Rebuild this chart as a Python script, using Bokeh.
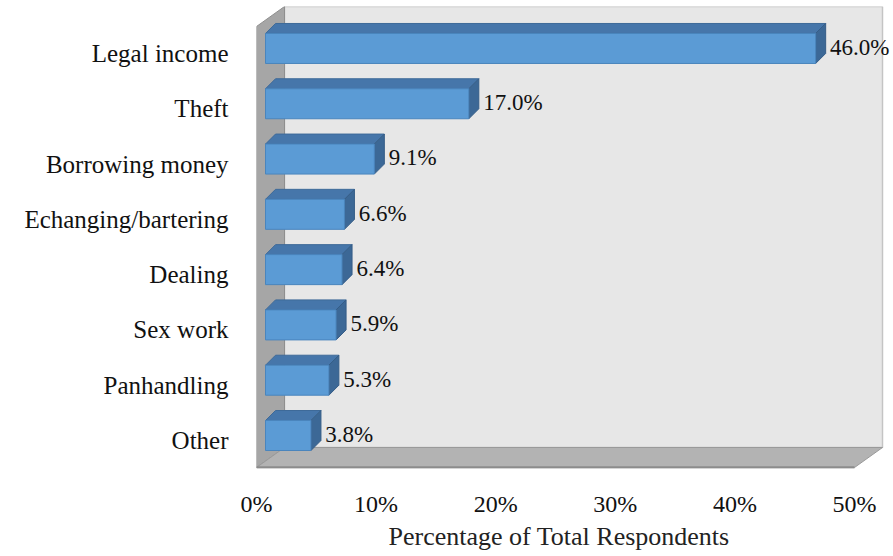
from bokeh.plotting import figure
from bokeh.models import Range1d, FixedTicker, ColumnDataSource, Title
from bokeh.embed import file_html
from bokeh.resources import INLINE
from bokeh.core.properties import value

# ---- data ----
categories = ["Legal income", "Theft", "Borrowing money", "Echanging/bartering",
              "Dealing", "Sex work", "Panhandling", "Other"]
values = [46.0, 17.0, 9.1, 6.6, 6.4, 5.9, 5.3, 3.8]
value_labels = ["46.0%", "17.0%", "9.1%", "6.6%", "6.4%", "5.9%", "5.3%", "3.8%"]
x_ticks = [0, 10, 20, 30, 40, 50]
x_tick_labels = ["0%", "10%", "20%", "30%", "40%", "50%"]
x_title = "Percentage of Total Respondents"

# ---- layout constants (pixels -> data units) ----
W, H = 893, 556
FRAME_L, FRAME_R, FRAME_T, FRAME_B = 256, 893, 6, 468
PX_X = 11.96          # px per percent
PX_Y = 55.29          # px per category step
X_END = (FRAME_R - FRAME_L) / PX_X
Y_START = -28 / PX_Y
Y_END = Y_START + (FRAME_B - FRAME_T) / PX_Y
X_MAX = x_ticks[-1]

WALL_DX = 28 / PX_X
WALL_DY = 20 / PX_Y
FLOOR_Y = Y_START + 1 / PX_Y
BACK_Y = FLOOR_Y + WALL_DY

BAR_X0 = 9 / PX_X
BAR_YOFF = 5 / PX_Y
BAR_HALF = 15 / PX_Y
BAR_DX = 10 / PX_X
BAR_DY = 10 / PX_Y
LABEL_DX = 1.2

FONT = value("Liberation Serif")

p = figure(width=W, height=H, output_backend="svg", toolbar_location=None,
           x_range=Range1d(0, X_END), y_range=Range1d(Y_START, Y_END),
           min_border_left=FRAME_L, min_border_right=W - FRAME_R,
           min_border_top=FRAME_T, min_border_bottom=H - FRAME_B)
p.outline_line_color = None
p.xgrid.visible = False
p.ygrid.visible = False
p.background_fill_color = "white"
p.border_fill_color = "white"

# ---- walls ----
BACK_R = X_MAX + WALL_DX
p.patch([WALL_DX, BACK_R, BACK_R, WALL_DX],
        [BACK_Y, BACK_Y, Y_END, Y_END],
        fill_color="#e7e7e7", line_color="#c4c4c4", line_width=1.5)
p.patch([0, 0, WALL_DX, WALL_DX],
        [FLOOR_Y, Y_END - WALL_DY, Y_END, BACK_Y],
        fill_color="#a6a6a6", line_color="#8f8f8f", line_width=1)
p.patch([0, X_MAX, X_MAX + WALL_DX, WALL_DX],
        [FLOOR_Y, FLOOR_Y, BACK_Y, BACK_Y],
        fill_color="#b3b3b3", line_color="#9a9a9a", line_width=1)
p.line([0, X_MAX], [FLOOR_Y, FLOOR_Y], line_color="#8c8c8c", line_width=2.5)

# ---- bars ----
n = len(categories)
ypos = [n - 1 - i for i in range(n)]
yc = [y + BAR_YOFF for y in ypos]
left = [BAR_X0] * n
right = [BAR_X0 + v for v in values]
bottom = [y - BAR_HALF for y in yc]
top = [y + BAR_HALF for y in yc]

top_xs, top_ys, side_xs, side_ys = [], [], [], []
for l, r, b, t in zip(left, right, bottom, top):
    top_xs.append([l, r, r + BAR_DX, l + BAR_DX])
    top_ys.append([t, t, t + BAR_DY, t + BAR_DY])
    side_xs.append([r, r, r + BAR_DX, r + BAR_DX])
    side_ys.append([b, t, t + BAR_DY, b + BAR_DY])

p.patches(top_xs, top_ys, fill_color="#4676aa", line_color="#3e6a99", line_width=1)
p.patches(side_xs, side_ys, fill_color="#3c6896", line_color="#355d87", line_width=1)
p.quad(left=left, right=right, bottom=bottom, top=top,
       fill_color="#5b9bd5", line_color="#4a85bd", line_width=1)

# ---- value labels ----
src = ColumnDataSource(dict(x=[r + LABEL_DX for r in right],
                            y=[y + 0.02 for y in yc], t=value_labels))
p.text(x="x", y="y", text="t", source=src, text_font=FONT, text_font_size="23px",
       text_color="#111111", text_baseline="middle", text_align="left")

# ---- axes ----
xa = p.xaxis[0]
xa.ticker = FixedTicker(ticks=x_ticks)
xa.major_label_overrides = {t: s for t, s in zip(x_ticks, x_tick_labels)}
xa.axis_line_color = None
xa.major_tick_line_color = None
xa.minor_tick_line_color = None
xa.major_tick_out = 0
xa.major_label_standoff = 22
xa.major_label_text_font = "Liberation Serif"
xa.major_label_text_font_size = "24px"
xa.major_label_text_color = "#111111"

ttl = Title(text=x_title, align="left", offset=132, standoff=0,
            text_font="Liberation Serif", text_font_size="26px",
            text_font_style="normal", text_color="#222222")
p.add_layout(ttl, "below")

ya = p.yaxis[0]
ya.ticker = FixedTicker(ticks=ypos)
ya.major_label_overrides = {y: c for y, c in zip(ypos, categories)}
ya.axis_line_color = None
ya.major_tick_line_color = None
ya.minor_tick_line_color = None
ya.major_tick_out = 0
ya.major_label_standoff = 28
ya.major_label_text_font = "Liberation Serif"
ya.major_label_text_font_size = "25px"
ya.major_label_text_color = "#111111"

open("out.html", "w").write(file_html(p, INLINE))
